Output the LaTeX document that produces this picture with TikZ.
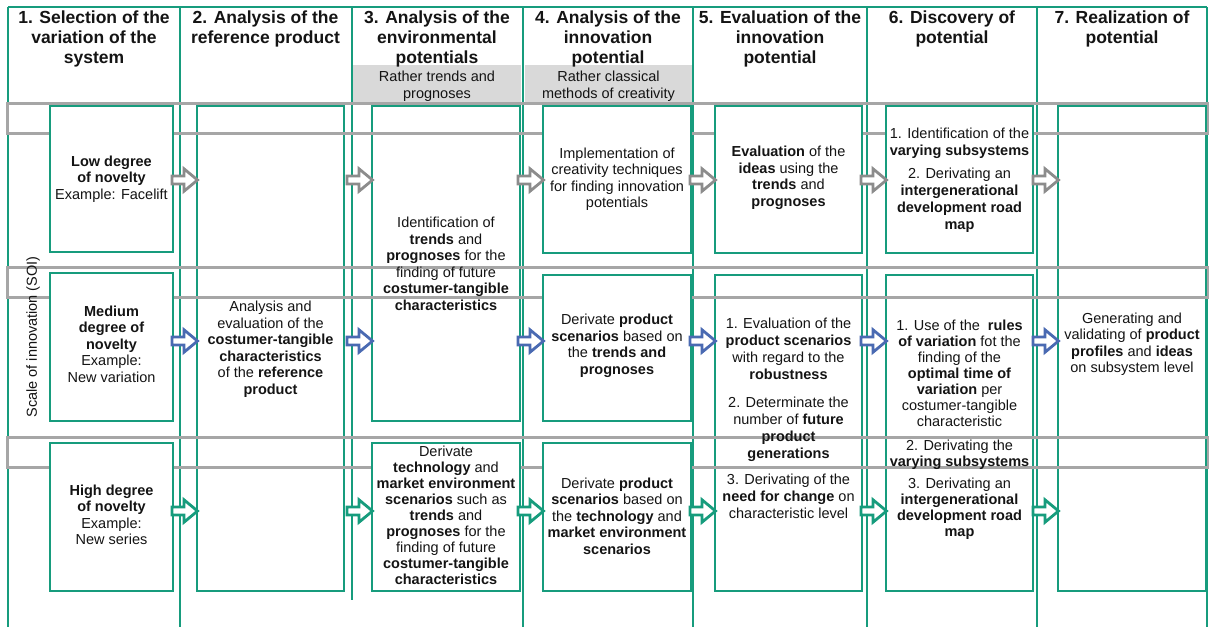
\documentclass[tikz,border=0pt]{standalone}
\usepackage{fontspec}
\setmainfont{Liberation Sans}
\usetikzlibrary{calc}
\definecolor{fgreen}{RGB}{23,156,125}
\definecolor{bandgrey}{RGB}{166,166,166}
\definecolor{headgrey}{RGB}{217,217,217}
\definecolor{agrey}{RGB}{140,140,140}
\definecolor{ablue}{RGB}{74,106,178}
\definecolor{txtc}{RGB}{20,20,20}
\begin{document}
\begin{tikzpicture}[x=1pt,y=-1pt,
  colline/.style={draw=fgreen, line width=1.5pt},
  box/.style={draw=fgreen, line width=1.8pt, fill=white, inner sep=0pt, outer sep=0pt, anchor=north west},
  band/.style={draw=bandgrey, line width=3pt},
  txt/.style={font=\fontsize{14.5}{16.5}\selectfont, align=center, inner sep=0pt, text=txtc},
  txtb/.style={font=\fontsize{14.5}{16}\selectfont, align=center, inner sep=0pt, text=txtc},
  txtc/.style={font=\fontsize{14.5}{17}\selectfont, align=center, inner sep=0pt, text=txtc},
  head/.style={font=\fontsize{17.5}{20}\selectfont\bfseries, align=center, inner sep=0pt, anchor=north, text=txtc},
  barrow/.pic={\path[pic actions] (-25,-4) -- (-13,-4) -- (-13,-11.2) -- (0.5,0) -- (-13,11.2) -- (-13,4) -- (-25,4) -- cycle;},
  arr/.style={draw=#1, fill=white, line width=2.8pt, line join=miter}
]
\fill[white] (0,0) rectangle (1209,627);
\useasboundingbox (0,0) rectangle (1209,627);

% row reference coordinates for the arrows
\coordinate (r1) at (0,180);
\coordinate (r2) at (0,341);
\coordinate (r3) at (0,511);

% column frames
\draw[colline] (8,7) -- (1207,7);
\foreach \xx in {8,180,523,693,867,1037,1207}
  \draw[colline] (\xx,7) -- (\xx,627);
\draw[colline] (352,7) -- (352,600);

% grey header sub-fields
\fill[headgrey] (353,65) rectangle (521,102);
\fill[headgrey] (525,65) rectangle (692,102);

% tall boxes (behind the grey bands)
\node[box, minimum width=147, minimum height=485] (b2) at (197,106) {};
\node[box, minimum width=148, minimum height=315] (b3a) at (372,106) {};
\node[box, minimum width=147, minimum height=316] (b5b) at (715,275) {};
\node[box, minimum width=147, minimum height=316] (b6b) at (886,275) {};
\node[box, minimum width=148, minimum height=485] (b7) at (1058,106) {};

% grey row bands
\draw[band] (7,103) rectangle (1208,133);
\draw[band] (7,267) rectangle (1208,297);
\draw[band] (7,437) rectangle (1208,467);

% single-row boxes
\node[box, minimum width=123, minimum height=146] (b11) at (50,106) {};
\node[box, minimum width=123, minimum height=148] (b12) at (50,273) {};
\node[box, minimum width=123, minimum height=148] (b13) at (50,443) {};
\node[box, minimum width=148, minimum height=148] (b3b) at (372,443) {};
\node[box, minimum width=148, minimum height=147] (b4a) at (543,106) {};
\node[box, minimum width=148, minimum height=146] (b4b) at (543,275) {};
\node[box, minimum width=148, minimum height=148] (b4c) at (543,443) {};
\node[box, minimum width=147, minimum height=147] (b5a) at (715,106) {};
\node[box, minimum width=147, minimum height=147] (b6a) at (886,106) {};

% arrows row 1 (grey)
\pic[arr=agrey] at (b2.west |- r1) {barrow};
\pic[arr=agrey] at (b3a.west |- r1) {barrow};
\pic[arr=agrey] at (b4a.west |- r1) {barrow};
\pic[arr=agrey] at (b5a.west |- r1) {barrow};
\pic[arr=agrey] at (b6a.west |- r1) {barrow};
\pic[arr=agrey] at (b7.west |- r1) {barrow};
% arrows row 2 (blue)
\pic[arr=ablue] at (b2.west |- r2) {barrow};
\pic[arr=ablue] at (b3a.west |- r2) {barrow};
\pic[arr=ablue] at (b4b.west |- r2) {barrow};
\pic[arr=ablue] at (b5b.west |- r2) {barrow};
\pic[arr=ablue] at (b6b.west |- r2) {barrow};
\pic[arr=ablue] at (b7.west |- r2) {barrow};
% arrows row 3 (green)
\pic[arr=fgreen] at (b2.west |- r3) {barrow};
\pic[arr=fgreen] at (b3b.west |- r3) {barrow};
\pic[arr=fgreen] at (b4c.west |- r3) {barrow};
\pic[arr=fgreen] at (b5b.west |- r3) {barrow};
\pic[arr=fgreen] at (b6b.west |- r3) {barrow};
\pic[arr=fgreen] at (b7.west |- r3) {barrow};

% headers
\node[head] (h1) at (94,11) {1. Selection of the\\variation of the\\system};
\node[head] (h2) at (265.5,11) {2. Analysis of the\\reference product};
\node[head] (h3) at (437,11) {3. Analysis of the\\environmental\\potentials};
\node[head] (h4) at (608,11) {4. Analysis of the\\innovation\\potential};
\node[head] (h5) at (780,11) {5. Evaluation of the\\innovation\\potential};
\node[head] (h6) at (952,11) {6. Discovery of\\potential};
\node[head] (h7) at (1122,11) {7. Realization of\\potential};
\node[txtc] (g3) at (437,86) {Rather trends and\\prognoses};
\node[txtc] (g4) at (608.5,86) {Rather classical\\methods of creativity};

% side label
\node[txt, rotate=90] (soi) at (33,337) {Scale of innovation (SOI)};

% box texts
\node[txt] (t11) at (111.5,179) {\textbf{Low degree}\\\textbf{of novelty}\\Example: Facelift};
\node[txt] (t12) at (111.5,344) {\textbf{Medium}\\\textbf{degree of}\\\textbf{novelty}\\Example:\\New variation};
\node[txt] (t13) at (111.5,515) {\textbf{High degree}\\\textbf{of novelty}\\Example:\\New series};
\node[txt] (t2) at (270.5,349) {Analysis and\\evaluation of the\\\textbf{costumer-tangible}\\\textbf{characteristics}\\of the \textbf{reference}\\\textbf{product}};
\node[txt] (t3a) at (446,264) {Identification of\\\textbf{trends} and\\\textbf{prognoses} for the\\finding of future\\\textbf{costumer-tangible}\\\textbf{characteristics}};
\node[txtb] (t3b) at (446,515) {Derivate\\\textbf{technology} and\\\textbf{market environment}\\\textbf{scenarios} such as\\\textbf{trends} and\\\textbf{prognoses} for the\\finding of future\\\textbf{costumer-tangible}\\\textbf{characteristics}};
\node[txt] (t4a) at (617,179) {Implementation of\\creativity techniques\\for finding innovation\\potentials};
\node[txt] (t4b) at (617,346) {Derivate \textbf{product}\\\textbf{scenarios} based on\\the \textbf{trends and}\\\textbf{prognoses}};
\node[txt] (t4c) at (617,516) {Derivate \textbf{product}\\\textbf{scenarios} based on\\the \textbf{technology} and\\\textbf{market environment}\\\textbf{scenarios}};
\node[txt] (t5a) at (788.5,178) {\textbf{Evaluation} of the\\\textbf{ideas} using the\\\textbf{trends} and\\\textbf{prognoses}};
\node[txtc, anchor=north] (t5b) at (788.5,317.5) {1. Evaluation of the\\\textbf{product scenarios}\\with regard to the\\\textbf{robustness}\\[11pt]2. Determinate the\\number of \textbf{future}\\\textbf{product}\\\textbf{generations}\\[9pt]3. Derivating of the\\\textbf{need for change} on\\characteristic level};
\node[txtc, anchor=north] (t6a) at (959.5,127.5) {1. Identification of the\\\textbf{varying subsystems}\\[6pt]2. Derivating an\\\textbf{intergenerational}\\\textbf{development road}\\\textbf{map}};
\node[txtb, anchor=north] (t6b) at (959.5,319.5) {1. Use of the\ \ \textbf{rules}\\\textbf{of variation} fot the\\finding of the\\\textbf{optimal time of}\\\textbf{variation} per\\costumer-tangible\\characteristic\\[8pt]2. Derivating the\\\textbf{varying subsystems}\\[6pt]3. Derivating an\\\textbf{intergenerational}\\\textbf{development road}\\\textbf{map}};
\node[txt] (t7) at (1132,344) {Generating and\\validating of \textbf{product}\\\textbf{profiles} and \textbf{ideas}\\on subsystem level};
\end{tikzpicture}
\end{document}
